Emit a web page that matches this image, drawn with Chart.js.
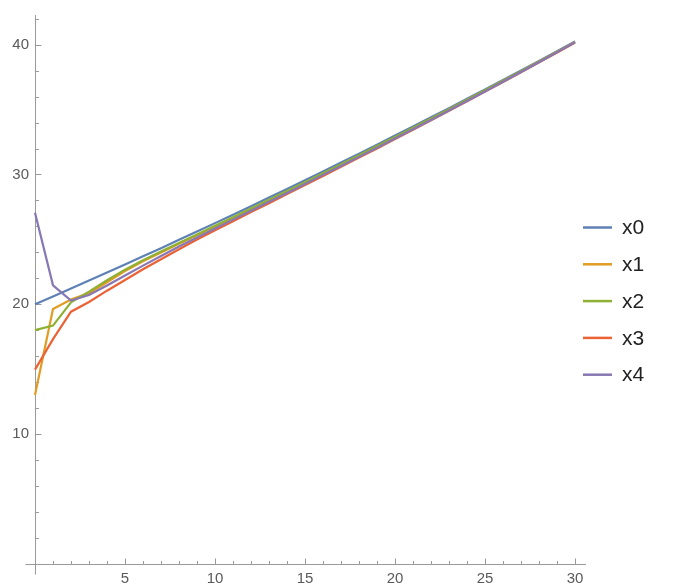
<!DOCTYPE html>
<html>
<head>
<meta charset="utf-8">
<script src="https://cdn.jsdelivr.net/npm/chart.js@4.4.1/dist/chart.umd.min.js"></script>
<style>
  html, body { margin: 0; padding: 0; background: #ffffff; }
  #wrap { width: 677px; height: 586px; }
</style>
</head>
<body>
<div id="wrap"><canvas id="chart" width="677" height="586"></canvas></div>
<script>
// time steps
const steps = [0,1,2,3,4,5,6,7,8,9,10,11,12,13,14,15,16,17,18,19,20,21,22,23,24,25,26,27,28,29,30];

// series values per step
const x0 = [20.00,20.60,21.21,21.82,22.44,23.06,23.69,24.32,24.96,25.60,26.25,26.90,27.56,28.22,28.89,29.56,30.24,30.92,31.61,32.30,33.00,33.70,34.41,35.12,35.84,36.56,37.29,38.02,38.76,39.50,40.25];
const x1 = [13.00,19.62,20.35,20.85,21.69,22.56,23.31,23.99,24.66,25.32,25.99,26.65,27.32,27.99,28.67,29.35,30.04,30.73,31.43,32.13,32.84,33.55,34.27,34.99,35.72,36.45,37.19,37.93,38.68,39.43,40.19];
const x2 = [18.00,18.35,20.15,20.97,21.84,22.66,23.39,24.06,24.72,25.38,26.05,26.71,27.38,28.05,28.73,29.41,30.10,30.79,31.49,32.19,32.90,33.60,34.32,35.04,35.76,36.49,37.23,37.96,38.71,39.45,40.21];
const x3 = [14.95,17.30,19.42,20.17,21.04,21.86,22.69,23.47,24.24,24.98,25.70,26.40,27.10,27.79,28.49,29.19,29.89,30.59,31.30,32.01,32.73,33.45,34.18,34.91,35.65,36.39,37.14,37.89,38.65,39.41,40.18];
const x4 = [27.05,21.45,20.28,20.70,21.44,22.21,22.97,23.72,24.44,25.14,25.83,26.52,27.21,27.89,28.58,29.27,29.97,30.66,31.36,32.06,32.77,33.49,34.21,34.93,35.67,36.40,37.15,37.90,38.66,39.42,40.19];

const seriesNames = ['x0', 'x1', 'x2', 'x3', 'x4'];
const seriesColors = ['#5E81B5', '#E19C24', '#8FB032', '#EB6235', '#8778B3'];

// labelled ticks
const xTickLabels = [5, 10, 15, 20, 25, 30];
const yTickLabels = [10, 20, 30, 40];

const AXIS_COLOR = '#9a9a9a';
const LABEL_COLOR = '#5a5a5a';
const FONT = '"Liberation Sans", Arial, sans-serif';

const toPoints = vals => vals.map((v, i) => ({ x: steps[i], y: v }));
const allSeries = [x0, x1, x2, x3, x4];

const datasets = allSeries.map((vals, i) => ({
  label: seriesNames[i],
  data: toPoints(vals),
  borderColor: seriesColors[i],
  backgroundColor: seriesColors[i],
  borderWidth: 2.2,
  pointRadius: 0,
  tension: 0,
  fill: false,
  order: allSeries.length - i   // later series painted on top
}));

// axes crossing at the origin, ticks pointing inward
const crossAxes = {
  id: 'crossAxes',
  beforeDatasetsDraw(chart) {
    const { ctx, chartArea: a } = chart;
    const sx = chart.scales.x, sy = chart.scales.y;
    const ox = Math.round(sx.getPixelForValue(0)) + 0.5;
    const oy = Math.round(sy.getPixelForValue(0)) + 0.5;
    ctx.save();
    ctx.strokeStyle = AXIS_COLOR;
    ctx.lineWidth = 1;
    ctx.beginPath();
    ctx.moveTo(ox - 10, oy); ctx.lineTo(a.right, oy);
    ctx.moveTo(ox, a.top); ctx.lineTo(ox, oy + 10);
    for (let t = 1; t <= 30; t++) {
      const px = Math.round(sx.getPixelForValue(t)) + 0.5;
      const len = t % 5 === 0 ? 6 : 3.5;
      ctx.moveTo(px, oy); ctx.lineTo(px, oy - len);
    }
    for (let v = 2; v <= 42; v += 2) {
      const py = Math.round(sy.getPixelForValue(v)) + 0.5;
      const len = v % 10 === 0 ? 6 : 3.5;
      ctx.moveTo(ox, py); ctx.lineTo(ox + len, py);
    }
    ctx.stroke();
    ctx.restore();
  }
};

// legend column to the right of the plot
const sideLegend = {
  id: 'sideLegend',
  afterDraw(chart) {
    const { ctx } = chart;
    const lineX = 583, lineW = 29, textX = 622, top = 227.5, gap = 36.8;
    ctx.save();
    ctx.font = '21px ' + FONT;
    ctx.textBaseline = 'middle';
    ctx.textAlign = 'left';
    chart.data.datasets.forEach((ds, i) => {
      const y = top + i * gap;
      ctx.strokeStyle = ds.borderColor;
      ctx.lineWidth = 2.5;
      ctx.beginPath();
      ctx.moveTo(lineX, y); ctx.lineTo(lineX + lineW, y);
      ctx.stroke();
      ctx.fillStyle = '#222222';
      ctx.fillText(ds.label, textX, y + 1);
    });
    ctx.restore();
  }
};

new Chart(document.getElementById('chart'), {
  type: 'line',
  data: { datasets },
  options: {
    responsive: false,
    animation: false,
    devicePixelRatio: 1,
    layout: { padding: { left: 0, top: 15, right: 91, bottom: 0 } },
    plugins: {
      legend: { display: false },
      tooltip: { enabled: false }
    },
    scales: {
      x: {
        type: 'linear',
        min: -0.278,
        max: 30.61,
        grid: { display: false, drawTicks: false },
        border: { display: false },
        ticks: {
          stepSize: 5,
          includeBounds: false,
          autoSkip: false,
          maxRotation: 0,
          padding: 0,
          color: LABEL_COLOR,
          font: { family: FONT, size: 15 },
          callback: v => xTickLabels.includes(v) ? String(v) : ''
        },
        afterFit: s => { s.height = 16; }
      },
      y: {
        type: 'linear',
        min: -0.5,
        max: 42.3,
        grid: { display: false, drawTicks: false },
        border: { display: false },
        ticks: {
          stepSize: 10,
          includeBounds: false,
          padding: 1,
          color: LABEL_COLOR,
          font: { family: FONT, size: 15 },
          callback: v => yTickLabels.includes(v) ? String(v) : ''
        },
        afterFit: s => { s.width = 30; }
      }
    }
  },
  plugins: [crossAxes, sideLegend]
});
</script>
</body>
</html>
